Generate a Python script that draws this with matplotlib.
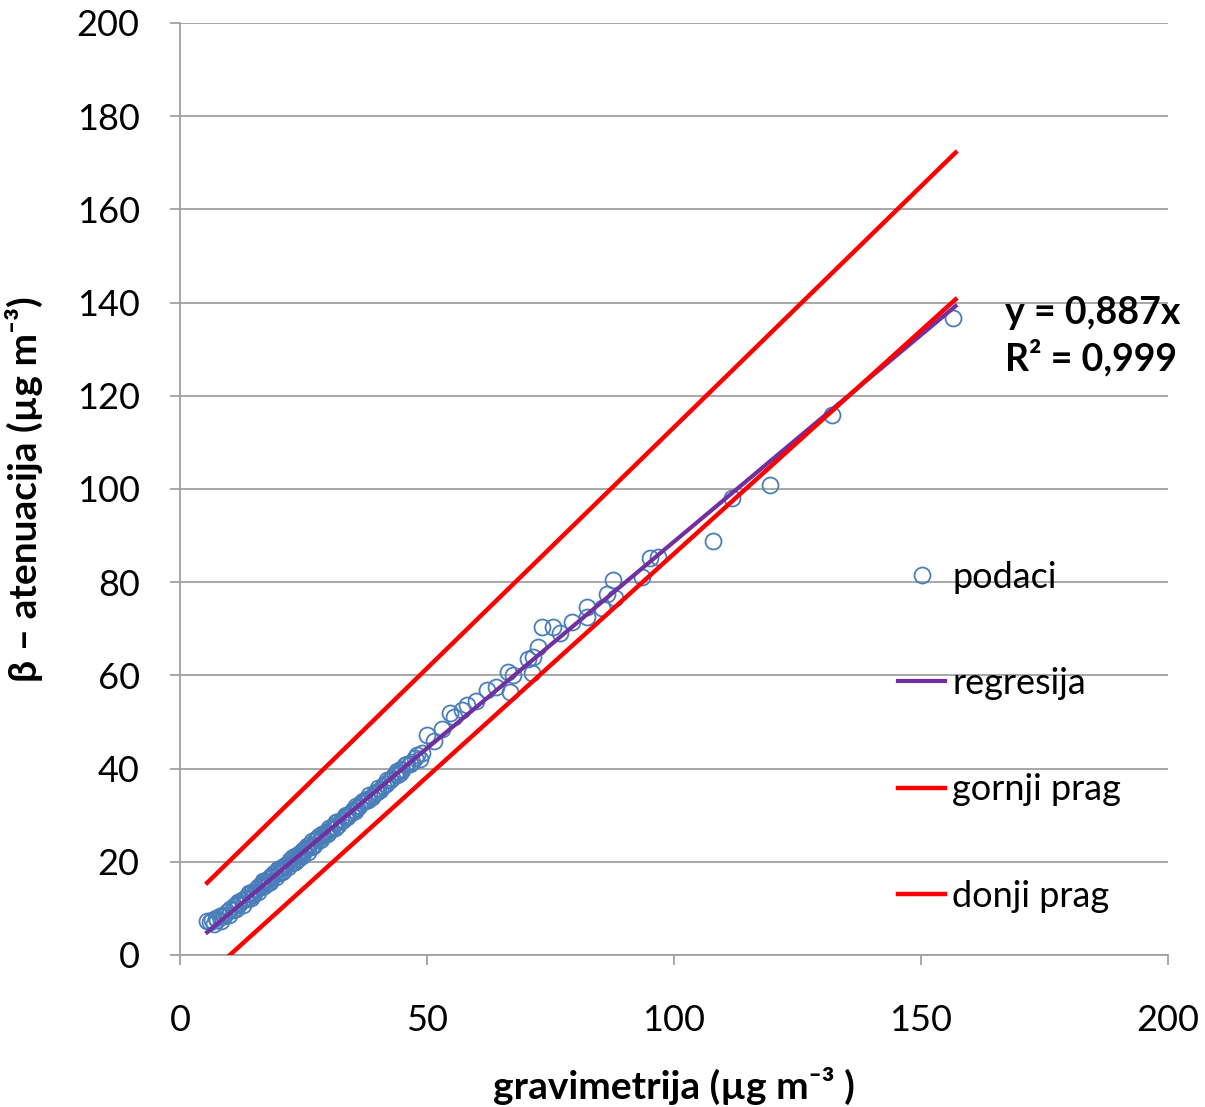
import matplotlib
matplotlib.use("Agg")
import matplotlib.pyplot as plt

plt.rcParams['font.family'] = ['Lato', 'DejaVu Sans']

# measured pairs (gravimetrija, beta atenuacija)
grav = [5.5, 6.5, 7.2, 8.0, 8.8, 9.5, 10.2, 11.0, 11.8, 12.5, 13.2, 14.0, 14.6, 15.3,
        16.0, 16.6, 17.2, 17.9, 18.5, 19.1, 19.8, 20.4, 21.0, 21.7, 22.3, 23.0, 23.6,
        24.2, 24.9, 25.5, 26.2, 26.8, 27.5, 28.1, 28.8, 29.5, 30.2, 31.0, 31.8, 32.5,
        33.3, 34.1, 35.0, 35.8, 36.6, 37.5, 38.3, 39.2, 40.0, 41.0, 42.0, 43.0, 44.0,
        45.0, 46.0, 47.0, 48.0, 49.0,
        6.0, 7.5, 9.0, 10.8, 12.0, 13.6, 15.0, 16.3, 17.5, 18.8, 20.0, 21.3, 22.6, 24.0,
        25.2, 26.5, 27.8, 29.0, 30.6, 32.0, 33.7, 35.4, 37.0, 38.8, 40.5, 42.5, 44.5,
        46.5, 48.5, 45.5,
        6.8, 8.4, 10.0, 11.4, 12.8, 14.3, 15.7, 17.0, 18.2, 19.5, 20.7, 21.9, 23.3, 24.6,
        25.9, 27.1, 28.4, 29.8, 31.3, 33.0, 34.6, 36.2, 38.0, 39.6, 41.5, 43.5, 47.5,
        14.8, 17.8, 20.9, 23.8, 26.9, 29.9, 33.9, 37.8, 41.8, 44.8,
        11.6, 13.9, 16.9, 19.9, 22.8, 25.8, 28.6, 31.6, 35.6, 39.9, 43.9,
        50.0, 54.7, 58.0, 62.1, 66.4, 66.8, 71.3, 71.5, 72.5, 73.3, 75.5, 79.4, 82.4,
        82.4, 85.4, 87.7, 88.1, 93.5, 95.1, 96.8, 107.8, 111.7, 119.4, 132.0, 156.5,
        51.5, 53.0, 55.5, 57.0, 60.0, 64.0, 67.5, 70.5, 77.0, 86.5]
beta = [7.2, 7.5, 8.0, 8.3, 8.6, 9.3, 9.9, 10.6, 11.3, 11.8, 12.3, 13.0, 13.5, 14.1,
        14.8, 15.2, 15.9, 16.4, 17.0, 17.5, 18.2, 18.6, 19.2, 19.6, 20.3, 20.7, 21.4,
        21.9, 22.5, 23.0, 23.7, 24.4, 24.8, 25.5, 26.0, 26.4, 27.3, 27.6, 28.5, 28.8,
        29.8, 30.1, 31.2, 31.6, 32.6, 33.0, 34.3, 34.6, 35.8, 36.2, 37.6, 38.0, 39.4,
        39.8, 41.0, 41.5, 43.0, 43.4,
        7.0, 7.6, 8.3, 9.6, 10.9, 12.0, 13.3, 14.5, 15.5, 16.9, 17.6, 19.0, 19.8, 21.5,
        22.4, 23.2, 24.9, 25.6, 27.0, 28.0, 30.0, 31.0, 33.0, 34.0, 35.5, 37.5, 39.0,
        41.0, 42.0, 40.8,
        6.6, 7.4, 8.6, 9.8, 10.8, 12.3, 13.6, 14.7, 15.6, 16.7, 17.8, 18.8, 20.0, 21.2,
        22.2, 23.6, 24.7, 26.0, 27.2, 28.9, 30.5, 32.0, 33.2, 35.0, 36.8, 38.8, 42.2,
        12.8, 15.4, 18.0, 20.6, 23.3, 26.2, 29.6, 33.4, 36.8, 40.0,
        11.0, 13.2, 15.8, 18.4, 21.1, 23.4, 25.0, 28.5, 32.0, 35.0, 38.6,
        47.2, 51.9, 53.6, 56.9, 60.7, 56.4, 60.5, 64.0, 66.1, 70.4, 70.4, 71.5, 74.7,
        72.5, 74.5, 80.5, 76.6, 81.1, 85.2, 85.4, 88.9, 98.1, 100.9, 115.9, 136.7,
        46.0, 48.5, 51.0, 52.5, 54.5, 57.5, 60.0, 63.5, 69.0, 77.5]

reg_x = [5.5, 157.0]
reg_y = [0.887 * v for v in reg_x]
upper_x = [5.5, 157.0]
upper_y = [15.5, 172.2]
lower_x = [5.5, 157.0]
lower_y = [-4.4, 140.7]

fig = plt.figure(figsize=(12.05, 11.07), dpi=100)
ax = fig.add_axes([180 / 1205, 1 - 955 / 1107, 988 / 1205, 932 / 1107])

ax.plot(grav, beta, 'o', mfc='none', mec='#4A7EBB', mew=1.3, ms=11.5, label='podaci', zorder=3)
ax.plot(reg_x, reg_y, color='#7030A0', lw=3.0, label='regresija', zorder=4)
ax.plot(upper_x, upper_y, color='#FF0000', lw=3.2, label='gornji prag', zorder=5)
ax.plot(lower_x, lower_y, color='#FF0000', lw=3.2, label='donji prag', zorder=5)

ax.set_xlim(0, 200)
ax.set_ylim(0, 200)
ax.set_xticks(range(0, 201, 50))
ax.set_yticks(range(0, 201, 20))
ax.yaxis.grid(True, color='#A0A0A0', lw=1.3)
ax.set_axisbelow(True)
for s in ['top', 'right']:
    ax.spines[s].set_visible(False)
for s in ['left', 'bottom']:
    ax.spines[s].set_color('#A0A0A0')
    ax.spines[s].set_linewidth(1.3)
ax.tick_params(axis='both', colors='#A0A0A0', labelcolor='black', labelsize=26,
               length=7, width=1.3)
ax.tick_params(axis='x', pad=28)
ax.tick_params(axis='y', pad=22)

ax.set_xlabel('gravimetrija (µg m⁻³ )', fontsize=28, fontweight='bold', labelpad=22)
ax.set_ylabel('β – atenuacija (µg m⁻³)', fontsize=28, fontweight='bold', labelpad=24)

ax.text(0.835, 0.664, 'y = 0,887x\nR² = 0,999', transform=ax.transAxes, fontsize=27,
        fontweight='bold', va='center', ha='left', linespacing=1.3)

ax.legend(loc='upper left', bbox_to_anchor=(0.727, 0.423), frameon=False, fontsize=26,
          labelspacing=2.03, handlelength=1.3, handletextpad=0.2, borderpad=0,
          borderaxespad=0)

fig.savefig('out.png', dpi=100)
